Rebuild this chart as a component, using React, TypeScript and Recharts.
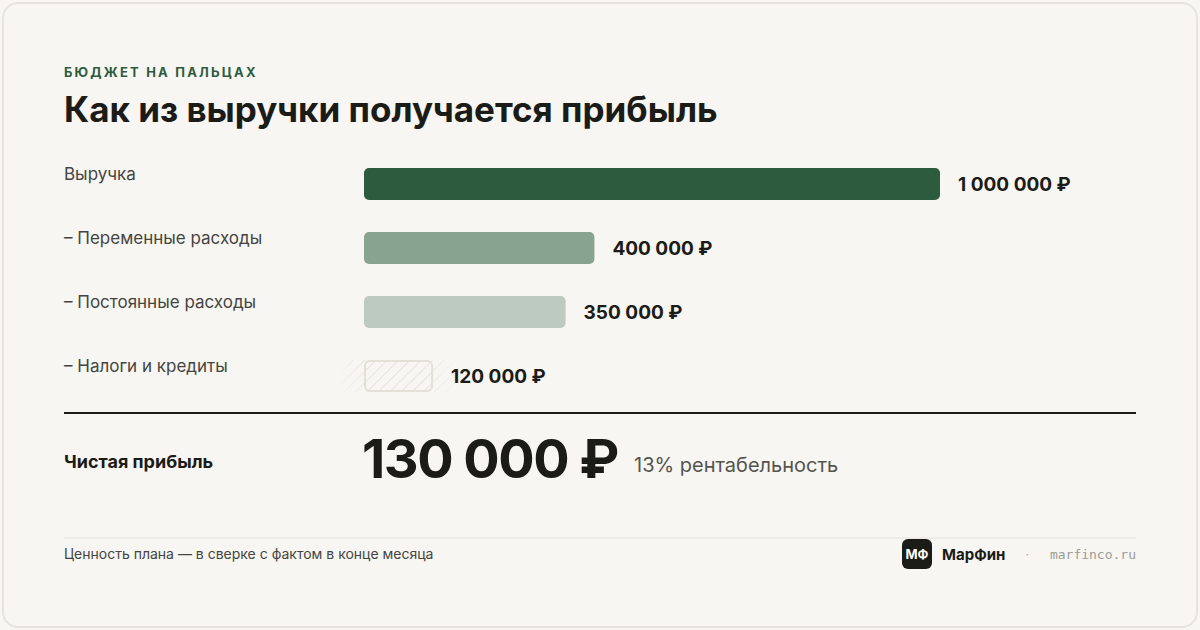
import React from "react";
import { Bar, BarChart, Cell, LabelList, XAxis, YAxis } from "recharts";

// строки «бюджета на пальцах»
const categories = [
  "Выручка",
  "– Переменные расходы",
  "– Постоянные расходы",
  "– Налоги и кредиты",
];
const values = [1000000, 400000, 350000, 120000];
const barColors = ["#2d5b3d", "#88a390", "#bccabf", "url(#hatch)"];
const netProfit = 130000;
const profitability = 13;

const FONT = "Inter, 'Noto Sans', sans-serif";
const BG = "#f7f6f2";

const fmt = (v: number) => String(v).replace(/\B(?=(\d{3})+(?!\d))/g, " ") + " ₽";

const data = categories.map((label, i) => ({ label, value: values[i] }));

const RowLabel = (props: any) => {
  const { y, payload } = props;
  return (
    <text x={64} y={y - 4} fontSize={17} fill="#45443f" fontFamily={FONT}>
      {payload.value}
    </text>
  );
};

const renderBar = (props: any) => {
  const { x, y, width, height, index, fill } = props;
  if (index !== 3) {
    return <rect x={x} y={y} width={width} height={height} rx={5} fill={fill} />;
  }
  return (
    <g>
      <defs>
        <pattern id="hatch" width={8} height={8} patternUnits="userSpaceOnUse" patternTransform="rotate(45)">
          <line x1={0} y1={0} x2={0} y2={8} stroke="#dfddd4" strokeWidth={1.5} />
        </pattern>
        <linearGradient id="fadeGrad" x1="0" y1="0" x2="1" y2="0">
          <stop offset="0%" stopColor="#000" />
          <stop offset="30%" stopColor="#fff" />
          <stop offset="70%" stopColor="#fff" />
          <stop offset="100%" stopColor="#000" />
        </linearGradient>
        <mask id="hatchFade">
          <rect x={x - 28} y={y} width={width + 52} height={height} fill="url(#fadeGrad)" />
        </mask>
      </defs>
      <rect x={x - 28} y={y} width={width + 52} height={height} fill="url(#hatch)" mask="url(#hatchFade)" />
      <rect x={x + 1} y={y + 1} width={width - 2} height={height - 2} rx={5} fill={BG} />
      <rect x={x + 1} y={y + 1} width={width - 2} height={height - 2} rx={5} fill="url(#hatch)" stroke="#e2e0d7" strokeWidth={2} />
    </g>
  );
};

export default function App() {
  return (
    <div style={{ position: "absolute", left: 0, top: 0, width: 1200, height: 630, background: BG }}>
      <div
        style={{
          position: "absolute",
          left: 2,
          top: 2,
          width: 1192,
          height: 622,
          border: "2px solid #e6e4dc",
          borderRadius: 16,
          background: BG,
        }}
      />
      <div style={{ position: "absolute", left: 0, top: 0 }}>
        <BarChart
          width={1200}
          height={630}
          layout="vertical"
          data={data}
          margin={{ top: 152, right: 260, bottom: 222, left: 64 }}
        >
          <XAxis type="number" domain={[0, 1000000]} hide />
          <YAxis
            type="category"
            dataKey="label"
            width={300}
            axisLine={false}
            tickLine={false}
            interval={0}
            tick={RowLabel}
          />
          <Bar dataKey="value" barSize={32} isAnimationActive={false} shape={renderBar}>
            {data.map((d, i) => (
              <Cell key={d.label} fill={barColors[i]} />
            ))}
            <LabelList
              dataKey="value"
              position="right"
              offset={18}
              formatter={(v: any) => fmt(Number(v))}
              fill="#1b1b17"
              fontSize={19}
              fontWeight={700}
              fontFamily={FONT}
            />
          </Bar>
        </BarChart>
      </div>
      <svg width={1200} height={630} style={{ position: "absolute", left: 0, top: 0, pointerEvents: "none" }}>
        <text x={64} y={77} fontFamily={FONT} fontSize={13} fontWeight={700} letterSpacing={2.2} fill="#2d5b3d">
          БЮДЖЕТ НА ПАЛЬЦАХ
        </text>
        <text x={64} y={122} fontFamily={FONT} fontSize={35} fontWeight={700} fill="#1b1b17">
          Как из выручки получается прибыль
        </text>

        <line x1={64} x2={1136} y1={413} y2={413} stroke="#1b1b17" strokeWidth={2} />

        <text x={64} y={468} fontFamily={FONT} fontSize={18} fontWeight={700} fill="#1b1b17">
          Чистая прибыль
        </text>
        <text x={362} y={478} fontFamily={FONT} fontSize={54} fontWeight={700} letterSpacing={-1.5} fill="#1b1b17">
          {fmt(netProfit)}
        </text>
        <text x={634} y={472} fontFamily={FONT} fontSize={20} fill="#55544e">
          {profitability}% рентабельность
        </text>

        <line x1={64} x2={1136} y1={538} y2={538} stroke="#e4e2da" strokeWidth={1} />
        <text x={64} y={559} fontFamily={FONT} fontSize={14} fill="#45443f">
          Ценность плана — в сверке с фактом в конце месяца
        </text>
        <rect x={902} y={539} width={30} height={30} rx={6} fill="#1b1b17" />
        <text x={917} y={559} textAnchor="middle" fontFamily={FONT} fontSize={13} fontWeight={700} fill="#fff">
          МФ
        </text>
        <text x={942} y={560} fontFamily={FONT} fontSize={15} fontWeight={700} fill="#1b1b17">
          МарФин
        </text>
        <text x={1027} y={559} textAnchor="middle" fontFamily={FONT} fontSize={13} fill="#b0afa8">
          ·
        </text>
        <text x={1136} y={559} textAnchor="end" fontFamily="'DejaVu Sans Mono', monospace" fontSize={13} fill="#9c9b95">
          marfinco.ru
        </text>
      </svg>
    </div>
  );
}
